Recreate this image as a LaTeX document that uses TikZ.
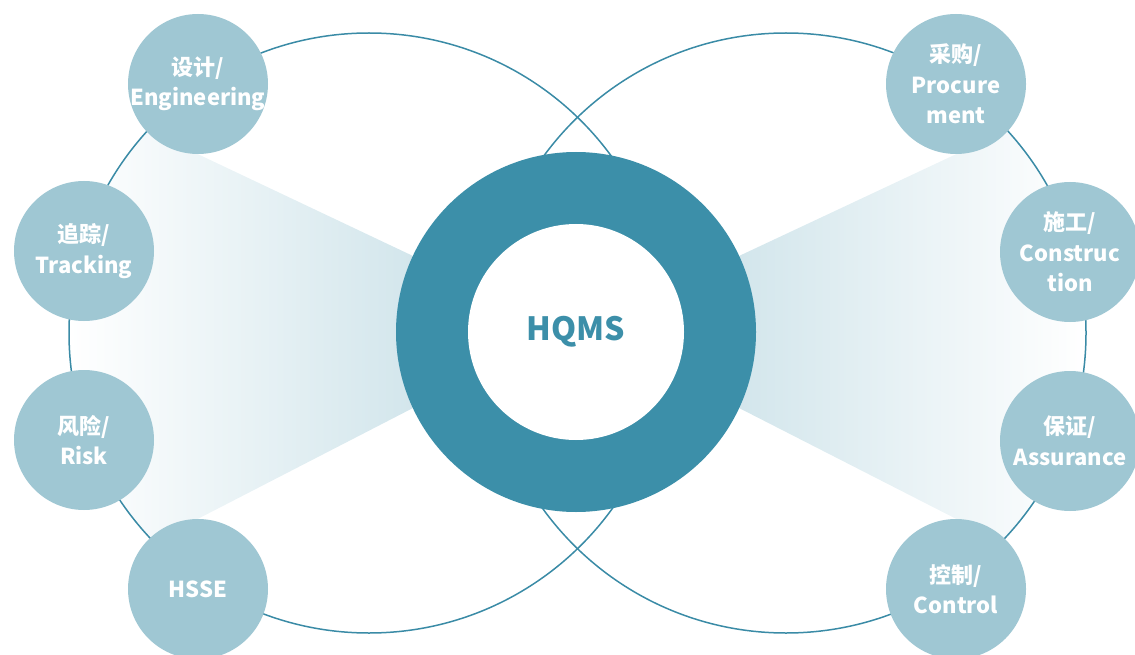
\documentclass[tikz,border=0pt]{standalone}
\usepackage{fontspec}
\setmainfont{Noto Sans CJK SC}
\usetikzlibrary{calc}
\pgfdeclarelayer{background}
\pgfsetlayers{background,main}
\definecolor{ringblue}{HTML}{3C8FA9}
\definecolor{petal}{HTML}{9FC7D3}
\definecolor{orbit}{HTML}{3A8BA6}
\definecolor{fanblue}{HTML}{D3E6EC}
\tikzset{
  orbitline/.style={draw=orbit,line width=1.5pt},
  item/.style={circle,fill=petal,minimum size=140pt,inner sep=-10pt,align=center,
    text=white,font=\fontsize{22}{30.5}\selectfont\bfseries},
}
\begin{document}
\begin{tikzpicture}[x=1pt,y=-1pt]
\useasboundingbox (0,0) rectangle (1135,655);
\clip (0,0) rectangle (1135,655);
% \draw[help lines,step=50] (0,0) grid (1135,655);
\coordinate (lc) at (369,333);
\coordinate (rc) at (786,333);
%
\draw[orbitline] (lc) circle [radius=300pt];
\draw[orbitline] (rc) circle [radius=300pt];
%
\node (ring) [circle,fill=ringblue,minimum size=360pt] at (576,332) {};
\node (eng) [item] at (198,84) {设计/\\Engineering};
\node (trk) [item] at (84,251) {追踪/\\Tracking};
\node (rsk) [item] at (84,440) {风险/\\Risk};
\node (hsse) [item] at (198,589) {HSSE};
\node (proc) [item] at (956,84) {采购/\\Procure\\ment};
\node (cons) [item] at (1070,252) {施工/\\Construc\\tion};
\node (assu) [item] at (1070,441) {保证/\\Assurance};
\node (ctrl) [item] at (956,589) {控制/\\Control};
%
\begin{pgfonlayer}{background}
\begin{scope}
\clip (lc) circle [radius=300pt];
\shade[left color=white,right color=fanblue] (ring.155) -- ($(ring.155)!1.6!(eng.south)$)
  -- ($(ring.205)!1.6!(hsse.north)$) -- (ring.205) -- cycle;
\end{scope}
\begin{scope}
\clip (rc) circle [radius=300pt];
\shade[left color=fanblue,right color=white] (ring.25) -- ($(ring.25)!1.6!(proc.south)$)
  -- ($(ring.335)!1.6!(ctrl.north)$) -- (ring.335) -- cycle;
\end{scope}
\end{pgfonlayer}
%
\node (hqms) [circle,fill=white,minimum size=216pt,text=ringblue,
  font=\fontsize{32}{40}\selectfont\bfseries] at (ring) {HQMS};
\end{tikzpicture}
\end{document}
